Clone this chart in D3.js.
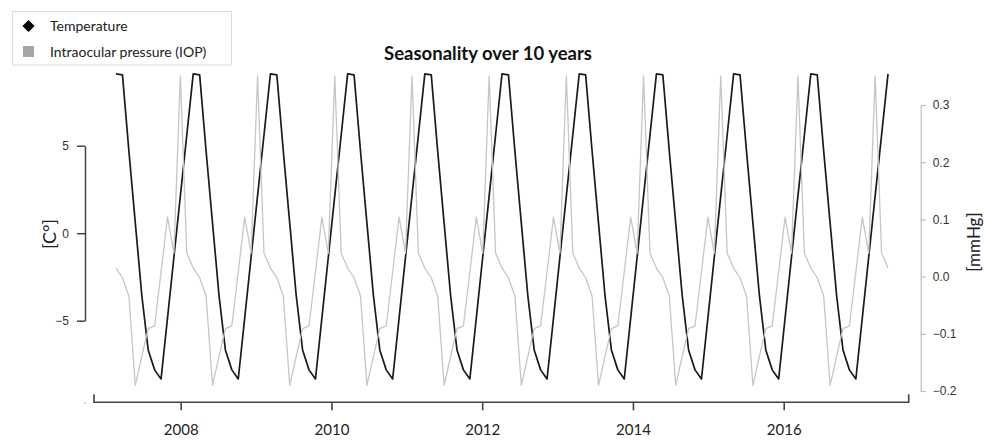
<!DOCTYPE html>
<html>
<head>
<meta charset="utf-8">
<script src="https://cdn.jsdelivr.net/npm/d3@7/dist/d3.min.js"></script>
<style>
  html, body { margin: 0; padding: 0; background: #fff; }
  svg { display: block; }
</style>
</head>
<body>
<svg id="chart" width="984" height="441"></svg>
<script>
// ---------------- DATA ----------------
const title = "Seasonality over 10 years";
const legendLabels = ["Temperature", "Intraocular pressure (IOP)"];
const yearTicks = [2008, 2010, 2012, 2014, 2016];
const tempTicks = [-5, 0, 5];
const iopTicks = [-0.2, -0.1, 0.0, 0.1, 0.2, 0.3];
const startYear = 2007.142;   // time of first sample (decimal years)
const sampleStep = 0.08535;   // time between samples (decimal years)

// Temperature seasonal component [°C], one row per cycle
const temperature = [
  9.10, 9.05, 4.70, 0.58, -3.53, -6.67, -7.81, -8.33, -4.85, -1.36, 2.13, 5.61,
  9.10, 9.05, 4.70, 0.58, -3.53, -6.67, -7.81, -8.33, -4.85, -1.36, 2.13, 5.61,
  9.10, 9.05, 4.70, 0.58, -3.53, -6.67, -7.81, -8.33, -4.85, -1.36, 2.13, 5.61,
  9.10, 9.05, 4.70, 0.58, -3.53, -6.67, -7.81, -8.33, -4.85, -1.36, 2.13, 5.61,
  9.10, 9.05, 4.70, 0.58, -3.53, -6.67, -7.81, -8.33, -4.85, -1.36, 2.13, 5.61,
  9.10, 9.05, 4.70, 0.58, -3.53, -6.67, -7.81, -8.33, -4.85, -1.36, 2.13, 5.61,
  9.10, 9.05, 4.70, 0.58, -3.53, -6.67, -7.81, -8.33, -4.85, -1.36, 2.13, 5.61,
  9.10, 9.05, 4.70, 0.58, -3.53, -6.67, -7.81, -8.33, -4.85, -1.36, 2.13, 5.61,
  9.10, 9.05, 4.70, 0.58, -3.53, -6.67, -7.81, -8.33, -4.85, -1.36, 2.13, 5.61,
  9.10, 9.05, 4.70, 0.58, -3.53, -6.67, -7.81, -8.33, -4.85, -1.36, 2.13, 5.61,
  9.10
];

// IOP seasonal component [mmHg], one row per cycle
const iop = [
  0.015, -0.002, -0.034, -0.190, -0.140, -0.091, -0.086, 0.008, 0.104, 0.041, 0.351, 0.041,
  0.015, -0.002, -0.034, -0.190, -0.140, -0.091, -0.086, 0.008, 0.104, 0.041, 0.351, 0.041,
  0.015, -0.002, -0.034, -0.190, -0.140, -0.091, -0.086, 0.008, 0.104, 0.041, 0.351, 0.041,
  0.015, -0.002, -0.034, -0.190, -0.140, -0.091, -0.086, 0.008, 0.104, 0.041, 0.351, 0.041,
  0.015, -0.002, -0.034, -0.190, -0.140, -0.091, -0.086, 0.008, 0.104, 0.041, 0.351, 0.041,
  0.015, -0.002, -0.034, -0.190, -0.140, -0.091, -0.086, 0.008, 0.104, 0.041, 0.351, 0.041,
  0.015, -0.002, -0.034, -0.190, -0.140, -0.091, -0.086, 0.008, 0.104, 0.041, 0.351, 0.041,
  0.015, -0.002, -0.034, -0.190, -0.140, -0.091, -0.086, 0.008, 0.104, 0.041, 0.351, 0.041,
  0.015, -0.002, -0.034, -0.190, -0.140, -0.091, -0.086, 0.008, 0.104, 0.041, 0.351, 0.041,
  0.015, -0.002, -0.034, -0.190, -0.140, -0.091, -0.086, 0.008, 0.104, 0.041, 0.351, 0.041,
  0.015
];

// ---------------- CHART ----------------
const svg = d3.select("#chart");
const calibri = "Lato, 'Open Sans', sans-serif";
const arial = "'Liberation Sans', Arial, sans-serif";

const x = d3.scaleLinear().domain([2008, 2016]).range([180.7, 783.7]);
const yT = d3.scaleLinear().domain([-5, 5]).range([320.7, 145.7]);
const yP = d3.scaleLinear().domain([-0.2, 0.3]).range([391, 105]);

const tOf = i => startYear + i * sampleStep;

// series lines
const lineT = d3.line().x((d, i) => x(tOf(i))).y(d => yT(d));
const lineP = d3.line().x((d, i) => x(tOf(i))).y(d => yP(d));

svg.append("path").datum(temperature)
  .attr("d", lineT).attr("fill", "none")
  .attr("stroke", "#1a1a1a").attr("stroke-width", 1.7)
  .attr("stroke-linejoin", "round");

svg.append("path").datum(iop)
  .attr("d", lineP).attr("fill", "none")
  .attr("stroke", "#c6c6c6").attr("stroke-width", 1.3)
  .attr("stroke-linejoin", "round");

// bottom axis
const axisY = 402.3;
const xDomainLeft = x.invert(94), xDomainRight = x.invert(908.7);
const gx = svg.append("g").attr("transform", `translate(0,${axisY})`)
  .call(d3.axisBottom(x).tickValues(yearTicks).tickFormat(d3.format("d"))
    .tickSize(8).tickSizeOuter(0).tickPadding(14));
gx.select(".domain").remove();
gx.selectAll(".tick line").attr("stroke", "#444").attr("stroke-width", 1.6);
gx.selectAll(".tick text").attr("font-family", calibri).attr("font-size", 15)
  .attr("fill", "#222").attr("dy", "0.71em");
svg.append("path")
  .attr("d", `M${x(xDomainLeft)},${axisY - 8}V${axisY}H${x(xDomainRight)}V${axisY - 8}`)
  .attr("fill", "none").attr("stroke", "#444").attr("stroke-width", 1.6);
svg.append("circle").attr("cx", 85).attr("cy", 403).attr("r", 0.8).attr("fill", "#aaa");

// left axis
const gl = svg.append("g").attr("transform", "translate(85,0)")
  .call(d3.axisLeft(yT).tickValues(tempTicks).tickFormat(d3.format("d"))
    .tickSize(8).tickSizeOuter(0).tickPadding(8));
gl.select(".domain").attr("stroke", "#444").attr("stroke-width", 1.5);
gl.selectAll(".tick line").attr("stroke", "#444").attr("stroke-width", 1.5);
gl.selectAll(".tick text").attr("font-family", arial).attr("font-size", 12).attr("fill", "#333");

// right axis
const gr = svg.append("g").attr("transform", "translate(920.7,0)")
  .call(d3.axisRight(yP).tickValues(iopTicks).tickFormat(d3.format(".1f"))
    .tickSize(5).tickSizeOuter(0).tickPadding(7));
gr.select(".domain").attr("stroke", "#bdbdbd").attr("stroke-width", 1.2);
gr.selectAll(".tick line").attr("stroke", "#bdbdbd").attr("stroke-width", 1.2);
gr.selectAll(".tick text").attr("font-family", arial).attr("font-size", 12).attr("fill", "#333");

// axis titles
svg.append("text").attr("transform", "translate(50,234) rotate(-90)")
  .attr("text-anchor", "middle").attr("dy", "0.35em")
  .attr("font-family", calibri).attr("font-size", 18).attr("fill", "#222").text("[C°]");
svg.append("text").attr("transform", "translate(974,242) rotate(-90)")
  .attr("text-anchor", "middle").attr("dy", "0.35em")
  .attr("font-family", calibri).attr("font-size", 17).attr("fill", "#222").text("[mmHg]");

// title
svg.append("text").attr("x", 488).attr("y", 60).attr("text-anchor", "middle")
  .attr("font-family", calibri).attr("font-weight", "bold").attr("font-size", 18.5)
  .attr("fill", "#111").text(title);

// legend
const lg = svg.append("g");
lg.append("rect").attr("x", 12.5).attr("y", 11.5).attr("width", 219).attr("height", 53.5)
  .attr("fill", "#fff").attr("stroke", "#dcdcdc").attr("stroke-width", 1);
lg.append("path").attr("d", d3.symbol(d3.symbolSquare, 74)())
  .attr("transform", "translate(28.5,26) rotate(45)").attr("fill", "#000");
lg.append("rect").attr("x", 23).attr("y", 46).attr("width", 11).attr("height", 11).attr("fill", "#a6a6a6");
lg.selectAll("text.leg").data(legendLabels).enter().append("text")
  .attr("class", "leg").attr("x", 50).attr("y", (d, i) => 26 + i * 25.7)
  .attr("dy", "0.35em").attr("font-family", calibri).attr("font-size", 14)
  .attr("fill", "#222").text(d => d);
</script>
</body>
</html>
